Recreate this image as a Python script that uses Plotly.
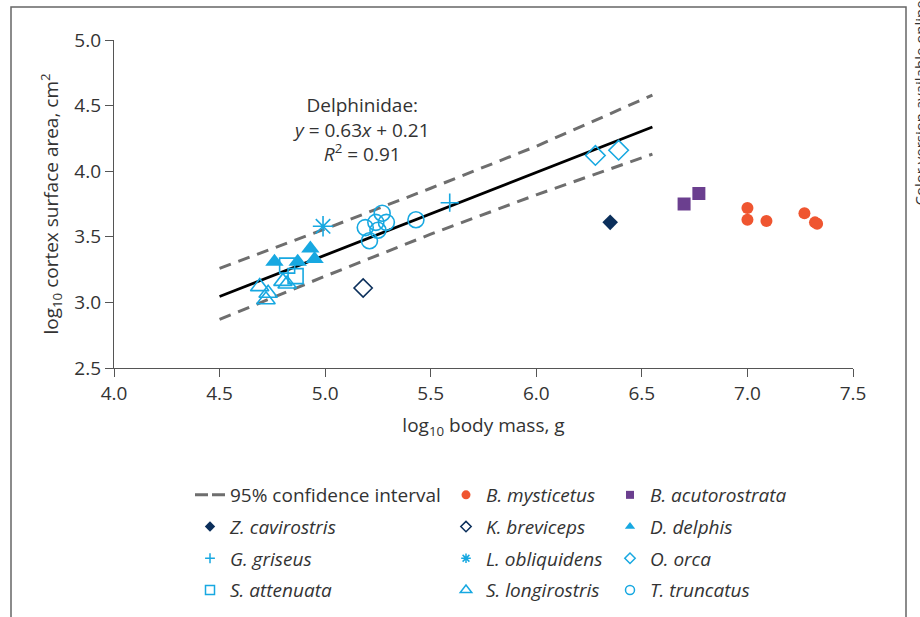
import plotly.graph_objects as go

# ---- data: log10 body mass (g) vs log10 cortex surface area (cm^2) ----
mysticetus_x = [7.00, 7.00, 7.09, 7.27, 7.32, 7.33]
mysticetus_y = [3.72, 3.63, 3.62, 3.68, 3.61, 3.60]
acutorostrata_x = [6.70, 6.77]
acutorostrata_y = [3.75, 3.83]
cavirostris_x = [6.35]
cavirostris_y = [3.61]
breviceps_x = [5.18]
breviceps_y = [3.11]
delphis_x = [4.76, 4.87, 4.93, 4.95]
delphis_y = [3.31, 3.31, 3.41, 3.33]
griseus_x = [5.59]
griseus_y = [3.76]
obliquidens_x = [4.99]
obliquidens_y = [3.58]
orca_x = [6.28, 6.39]
orca_y = [4.12, 4.16]
attenuata_x = [4.82, 4.86]
attenuata_y = [3.28, 3.20]
longirostris_x = [4.69, 4.72, 4.73, 4.80, 4.82]
longirostris_y = [3.12, 3.02, 3.07, 3.16, 3.14]
truncatus_x = [5.19, 5.27, 5.24, 5.29, 5.25, 5.21, 5.43]
truncatus_y = [3.57, 3.68, 3.61, 3.61, 3.55, 3.47, 3.63]

# Delphinidae regression and its 95% confidence band
slope, intercept, r2 = 0.63, 0.21, 0.91
fit_x = [4.5, 6.55]
band_x = [4.5, 5.0, 5.5, 6.0, 6.55]
band_upper = [3.26, 3.56, 3.87, 4.19, 4.58]
band_lower = [2.87, 3.20, 3.52, 3.82, 4.13]

x_ticks = [4.0, 4.5, 5.0, 5.5, 6.0, 6.5, 7.0, 7.5]
y_ticks = [2.5, 3.0, 3.5, 4.0, 4.5, 5.0]

CYAN = "#17a8e1"
NAVY = "#0b2f5b"
PURPLE = "#6b3f8f"
ORANGE = "#ef5530"
DASH_GREY = "#6e6e6e"
TEXT = "#333333"
AXIS = "#555555"
FONT = "Open Sans"

W, H = 920, 617
ML, MR, MT, MB = 114, 67, 40, 249
PW, PH = W - ML - MR, H - MT - MB


def px_x(px):
    return (px - ML) / PW


def px_y(py):
    return (H - MB - py) / PH


fig = go.Figure()

# confidence band (dashed)
for band in (band_upper, band_lower):
    fig.add_trace(go.Scatter(x=band_x, y=band, mode="lines", showlegend=False,
                             line=dict(color=DASH_GREY, width=3, dash="12px,8px"),
                             hoverinfo="skip"))

# regression line
fig.add_trace(go.Scatter(x=fit_x, y=[slope * v + intercept for v in fit_x],
                         mode="lines", showlegend=False,
                         line=dict(color="black", width=2.8), hoverinfo="skip"))

# species: (name, x, y, symbol, colour, size, line width, legend, legend size)
species = [
    ("<i>B. mysticetus</i>", mysticetus_x, mysticetus_y, "circle", ORANGE, 12, 0, "legend2", 9),
    ("<i>B. acutorostrata</i>", acutorostrata_x, acutorostrata_y, "square", PURPLE, 13, 0, "legend3", 8),
    ("<i>Z. cavirostris</i>", cavirostris_x, cavirostris_y, "diamond", NAVY, 12, 0, "legend", 8),
    ("<i>K. breviceps</i>", breviceps_x, breviceps_y, "diamond-open", NAVY, 14, 1.6, "legend2", 8),
    ("<i>D. delphis</i>", delphis_x, delphis_y, "triangle-up", CYAN, 16, 0, "legend3", 9),
    ("<i>G. griseus</i>", griseus_x, griseus_y, "cross-thin-open", CYAN, 13, 1.6, "legend", 7),
    ("<i>L. obliquidens</i>", obliquidens_x, obliquidens_y, "asterisk-open", CYAN, 17, 1.6, "legend2", 8),
    ("<i>O. orca</i>", orca_x, orca_y, "diamond-open", CYAN, 15, 1.6, "legend3", 8),
    ("<i>S. attenuata</i>", attenuata_x, attenuata_y, "square-open", CYAN, 15, 1.6, "legend", 9),
    ("<i>S. longirostris</i>", longirostris_x, longirostris_y, "triangle-up-open", CYAN, 16, 1.6, "legend2", 10),
    ("<i>T. truncatus</i>", truncatus_x, truncatus_y, "circle-open", CYAN, 16, 1.6, "legend3", 9),
]

for name, xs, ys, sym, col, size, lw, _, _ in species:
    fig.add_trace(go.Scatter(x=xs, y=ys, mode="markers", name=name, showlegend=False,
                             marker=dict(symbol=sym, color=col, size=size,
                                         line=dict(color=col, width=lw))))

# legend entries (smaller symbols than in the plot)
fig.add_trace(go.Scatter(x=[None], y=[None], mode="lines", name="95% confidence interval",
                         legend="legend", legendgroup="ci", legendrank=1,
                         line=dict(color=DASH_GREY, width=3, dash="13px,4px")))
rank = {"legend": 2, "legend2": 1, "legend3": 1}
for name, xs, ys, sym, col, size, lw, leg, lsize in species:
    fig.add_trace(go.Scatter(x=[None], y=[None], mode="markers", name=name,
                             legend=leg, legendgroup=name, legendrank=rank[leg],
                             marker=dict(symbol=sym, color=col, size=lsize,
                                         line=dict(color=col, width=1.5 if lw else 0))))
    rank[leg] += 1

legend_common = dict(orientation="v", xanchor="left", yanchor="top",
                     font=dict(family=FONT, size=19, color=TEXT),
                     bgcolor="rgba(0,0,0,0)", tracegroupgap=4,
                     itemclick=False, itemdoubleclick=False)
legend_top = px_y(476)

axis_common = dict(showline=True, linecolor=AXIS, linewidth=1.3, ticks="outside",
                   ticklen=8, tickwidth=1.3, tickcolor=AXIS, showgrid=False,
                   zeroline=False, tickfont=dict(family=FONT, size=19, color=TEXT),
                   tickformat=".1f")

fig.update_layout(
    width=W, height=H,
    margin=dict(l=ML, r=MR, t=MT, b=MB, autoexpand=False),
    paper_bgcolor="white", plot_bgcolor="white",
    font=dict(family=FONT, size=19, color=TEXT),
    xaxis=dict(range=[4.0, 7.5], tickvals=x_ticks, automargin=False,
               title=dict(text="log<sub>10</sub> body mass, g", standoff=13,
                          font=dict(family=FONT, size=19, color=TEXT)),
               **axis_common),
    yaxis=dict(range=[2.5, 5.0], tickvals=y_ticks, automargin=False,
               title=dict(text="log<sub>10</sub> cortex surface area, cm<sup>2</sup>",
                          standoff=10, font=dict(family=FONT, size=19, color=TEXT)),
               **axis_common),
    legend=dict(x=px_x(190), y=legend_top, **legend_common),
    legend2=dict(x=px_x(446), y=legend_top, **legend_common),
    legend3=dict(x=px_x(610), y=legend_top, **legend_common),
    showlegend=True,
)

# regression equation label
fig.add_annotation(x=5.17, y=4.317, xref="x", yref="y", showarrow=False,
                   xanchor="center", yanchor="middle", align="center",
                   text=f"Delphinidae:<br><i>y</i> = {slope:.2f}<i>x</i> + {intercept:.2f}"
                        f"<br><i>R</i><sup>2</sup> = {r2:.2f}",
                   font=dict(family=FONT, size=19, color=TEXT))

# side note
fig.add_annotation(x=px_x(907), y=px_y(208), xref="paper", yref="paper", showarrow=False,
                   xanchor="left", yanchor="bottom", textangle=-90,
                   text="Color version available online",
                   font=dict(family=FONT, size=15, color=TEXT))

# figure frame
xl, xr, yt, yb = px_x(11), px_x(906), px_y(7), px_y(625)
fig.add_shape(type="path", xref="paper", yref="paper",
              path=f"M {xl},{yb} L {xl},{yt} L {xr},{yt} L {xr},{yb}",
              line=dict(color="#666666", width=1.5))

fig.write_html("out.html")
